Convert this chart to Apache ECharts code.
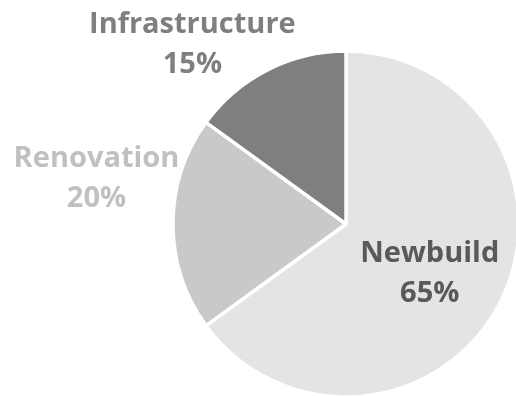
<!DOCTYPE html>
<html>
<head>
<meta charset="utf-8">
<script src="https://cdn.jsdelivr.net/npm/echarts@6/dist/echarts.min.js"></script>
<style>
  html, body { margin: 0; padding: 0; background: #fff; }
  #chart { width: 516px; height: 396px; }
</style>
</head>
<body>
<div id="chart"></div>
<script>
// Share of work by project type (percent)
const categories = ['Newbuild', 'Renovation', 'Infrastructure'];
const shares = [65, 20, 15];

const sliceColors = ['#e4e4e4', '#c9c9c9', '#7f7f7f'];
const labelColors = ['#595959', '#c0c0c0', '#7f7f7f'];
// label nudges from each slice's inner anchor point
const labelOffsets = [[4, 9], [-160, -45], [-113, -100]];

const chart = echarts.init(document.getElementById('chart'), null, { renderer: 'canvas' });

chart.setOption({
  animation: false,
  backgroundColor: '#ffffff',
  series: [{
    type: 'pie',
    center: [346, 224],
    radius: [0, 173],
    startAngle: 90,
    clockwise: true,
    avoidLabelOverlap: false,
    labelLine: { show: false },
    itemStyle: { borderColor: '#ffffff', borderWidth: 3.5 },
    emphasis: { disabled: true },
    data: categories.map((name, i) => ({
      name: name,
      value: shares[i],
      itemStyle: { color: sliceColors[i] },
      label: {
        show: true,
        position: 'inside',
        formatter: '{b}\n{c}%',
        color: labelColors[i],
        fontFamily: 'Open Sans',
        fontWeight: 'bold',
        fontSize: 29,
        lineHeight: 40,
        align: 'center',
        offset: labelOffsets[i]
      }
    }))
  }]
});
</script>
</body>
</html>
